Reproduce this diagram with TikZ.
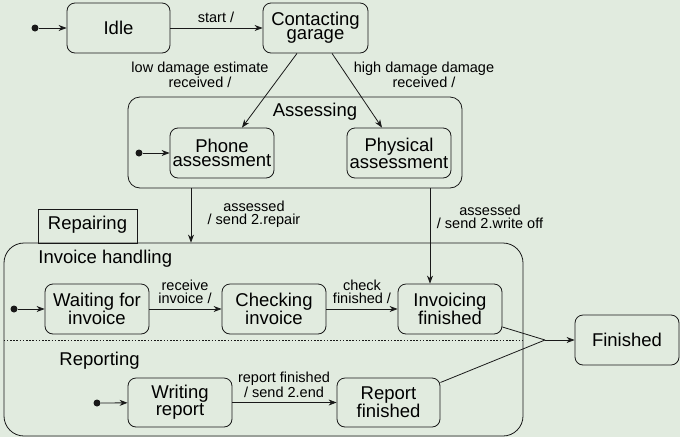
\documentclass[tikz,border=0pt]{standalone}
\usepackage{fontspec}
\setmainfont{Liberation Sans}
\usetikzlibrary{arrows.meta}
\definecolor{bg}{RGB}{225,235,223}
\definecolor{ink}{RGB}{25,25,25}
\begin{document}
\begin{tikzpicture}[x=1pt,y=-1pt, line width=0.8pt, draw=ink,
  >={Stealth[length=8pt,width=6pt,inset=2.5pt]},
  state/.style={draw=ink, rounded corners=8pt, minimum width=104pt, minimum height=50pt,
    align=center, inner sep=0pt, font=\fontsize{18.5}{14}\selectfont},
  lbl/.style={align=center, inner sep=0pt, font=\fontsize{14.5}{13}\selectfont},
  title/.style={inner sep=0pt, font=\fontsize{18.5}{14}\selectfont},
  init/.style={circle, fill=ink, inner sep=0pt, minimum size=7pt}]
\fill[bg] (0,0) rectangle (680,437);
\useasboundingbox (0,0) rectangle (680,437);

% top level states
\node[init] (i0) at (35,28) {};
\node[state, minimum width=103pt] (idle) at (118.5,28) {Idle};
\node[state, minimum width=105pt] (cg) at (315.5,28) {Contacting\\garage};

% Assessing composite state
\node[draw=ink, rounded corners=12pt, minimum width=334pt, minimum height=91pt, inner sep=0pt] (as) at (295,142.5) {};
\node[title, anchor=base] (ast) at (315,116) {Assessing};
\node[init] (i1) at (139,153) {};
\node[state] (ph) at (222,153) {Phone\\assessment};
\node[state] (py) at (399,153) {Physical\\assessment};

% Repairing composite state with its tab
\node[draw=ink, minimum width=99pt, minimum height=34pt, inner sep=0pt] (tab) at (87.5,226) {};
\node[title, anchor=base] (tabt) at (87.5,229) {Repairing};
\node[draw=ink, rounded corners=20pt, minimum width=519pt, minimum height=193pt, inner sep=0pt] (rep) at (263.5,339.5) {};
\draw[dash pattern=on 1.6pt off 1.6pt] (rep.west |- 0,340) -- (rep.east |- 0,340);

% Invoice handling region
\node[title, anchor=base west] (iht) at (38,263) {Invoice handling};
\node[init] (i2) at (14,309) {};
\node[state] (wf) at (97,309) {Waiting for\\invoice};
\node[state] (ci) at (274,309) {Checking\\invoice};
\node[state] (inv) at (450,309) {Invoicing\\finished};

% Reporting region
\node[title, anchor=base west] (rpt) at (59,365) {Reporting};
\node[init] (i3) at (97,403) {};
\node[state, minimum height=49pt] (wr) at (180,402.5) {Writing\\report};
\node[state, minimum width=103pt, minimum height=49pt] (rf) at (388.5,402.5) {Report\\finished};

% final state
\node[state, minimum width=104pt, minimum height=50pt] (fin) at (627,340) {Finished};
\coordinate (j) at (545,340);

% transitions
\draw[->] (i0) -- (idle);
\draw[->] (idle) -- (cg);
\draw[->] ([xshift=-18.5pt]cg.south) -- ([xshift=20pt]ph.north);
\draw[->] ([xshift=16.5pt]cg.south) -- ([xshift=-17pt]py.north);
\draw[->] (i1) -- (ph);
\draw[->] ([xshift=-104pt]as.south) -- ([xshift=-104pt]as.south |- rep.north);
\draw[->] ([xshift=135pt]as.south) -- ([xshift=135pt]as.south |- inv.north);
\draw[->] (i2) -- (wf);
\draw[->] (wf) -- (ci);
\draw[->] (ci) -- (inv);
\draw[->] (i3) -- (wr);
\draw[->] (wr) -- (rf);
\draw ([yshift=-18pt]inv.east) -- (j);
\draw ([yshift=20pt]rf.east) -- (j);
\draw[->] (j) -- (fin);

% transition labels
\node[lbl] (l1) at (216,17) {start /};
\node[lbl] (l2) at (200,75) {low damage estimate\\received /};
\node[lbl] (l3) at (424,75) {high damage damage\\received /};
\node[lbl] (l4) at (254,214) {assessed\\/ send 2.repair};
\node[lbl] (l5) at (490,217) {assessed\\/ send 2.write off};
\node[lbl] (l6) at (185,292) {receive\\invoice /};
\node[lbl] (l7) at (362,292) {check\\finished /};
\node[lbl] (l8) at (284,385) {report finished\\/ send 2.end};
\end{tikzpicture}
\end{document}
